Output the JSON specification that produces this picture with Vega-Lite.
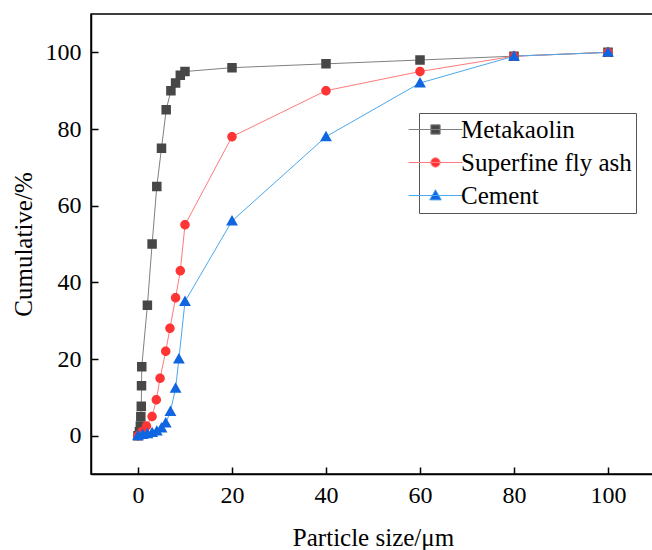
{
  "$schema": "https://vega.github.io/schema/vega-lite/v6.json",
  "autosize": "none",
  "width": 564,
  "height": 460,
  "padding": {"left": 91, "top": 14, "right": 0, "bottom": 76},
  "background": "white",
  "config": {
    "font": "Liberation Serif",
    "view": {"stroke": "black", "strokeWidth": 1.5},
    "axis": {
      "grid": false,
      "domainColor": "black",
      "domainWidth": 1.5,
      "tickColor": "black",
      "tickWidth": 1.5,
      "tickSize": -7,
      "labelFont": "Liberation Serif",
      "labelFontSize": 24,
      "labelColor": "black",
      "titleFont": "Liberation Serif",
      "titleFontSize": 25,
      "titleFontWeight": "normal",
      "titleColor": "black"
    }
  },
  "data": {
    "values": [
      {"s": "Metakaolin", "i": 0, "x": 0, "y": 0},
      {"s": "Metakaolin", "i": 1, "x": 0.3, "y": 1},
      {"s": "Metakaolin", "i": 2, "x": 0.5, "y": 2.5},
      {"s": "Metakaolin", "i": 3, "x": 0.6, "y": 5},
      {"s": "Metakaolin", "i": 4, "x": 0.7, "y": 7.7},
      {"s": "Metakaolin", "i": 5, "x": 0.75, "y": 13},
      {"s": "Metakaolin", "i": 6, "x": 0.8, "y": 18},
      {"s": "Metakaolin", "i": 7, "x": 2, "y": 34},
      {"s": "Metakaolin", "i": 8, "x": 3, "y": 50},
      {"s": "Metakaolin", "i": 9, "x": 4, "y": 65},
      {"s": "Metakaolin", "i": 10, "x": 5, "y": 75},
      {"s": "Metakaolin", "i": 11, "x": 6, "y": 85},
      {"s": "Metakaolin", "i": 12, "x": 7, "y": 90},
      {"s": "Metakaolin", "i": 13, "x": 8, "y": 92},
      {"s": "Metakaolin", "i": 14, "x": 9, "y": 94},
      {"s": "Metakaolin", "i": 15, "x": 10, "y": 95},
      {"s": "Metakaolin", "i": 16, "x": 20, "y": 96},
      {"s": "Metakaolin", "i": 17, "x": 40, "y": 97},
      {"s": "Metakaolin", "i": 18, "x": 60, "y": 98},
      {"s": "Metakaolin", "i": 19, "x": 80, "y": 99},
      {"s": "Metakaolin", "i": 20, "x": 100, "y": 100},
      {"s": "Superfine fly ash", "i": 0, "x": 0, "y": 0},
      {"s": "Superfine fly ash", "i": 1, "x": 0.8, "y": 1},
      {"s": "Superfine fly ash", "i": 2, "x": 1.8, "y": 2.5},
      {"s": "Superfine fly ash", "i": 3, "x": 3, "y": 5},
      {"s": "Superfine fly ash", "i": 4, "x": 3.9, "y": 9.4},
      {"s": "Superfine fly ash", "i": 5, "x": 4.7, "y": 15},
      {"s": "Superfine fly ash", "i": 6, "x": 5.9, "y": 22},
      {"s": "Superfine fly ash", "i": 7, "x": 6.8, "y": 28},
      {"s": "Superfine fly ash", "i": 8, "x": 8, "y": 36},
      {"s": "Superfine fly ash", "i": 9, "x": 9, "y": 43},
      {"s": "Superfine fly ash", "i": 10, "x": 10, "y": 55},
      {"s": "Superfine fly ash", "i": 11, "x": 20, "y": 78},
      {"s": "Superfine fly ash", "i": 12, "x": 40, "y": 90},
      {"s": "Superfine fly ash", "i": 13, "x": 60, "y": 95},
      {"s": "Superfine fly ash", "i": 14, "x": 80, "y": 99},
      {"s": "Superfine fly ash", "i": 15, "x": 100, "y": 100},
      {"s": "Cement", "i": 0, "x": 0, "y": 0},
      {"s": "Cement", "i": 1, "x": 1, "y": 0.3},
      {"s": "Cement", "i": 2, "x": 2, "y": 0.5},
      {"s": "Cement", "i": 3, "x": 3, "y": 0.8},
      {"s": "Cement", "i": 4, "x": 4, "y": 1.2},
      {"s": "Cement", "i": 5, "x": 5, "y": 2},
      {"s": "Cement", "i": 6, "x": 5.9, "y": 3.3},
      {"s": "Cement", "i": 7, "x": 6.9, "y": 6.3},
      {"s": "Cement", "i": 8, "x": 8, "y": 12.4},
      {"s": "Cement", "i": 9, "x": 8.7, "y": 20},
      {"s": "Cement", "i": 10, "x": 10, "y": 35},
      {"s": "Cement", "i": 11, "x": 20, "y": 56},
      {"s": "Cement", "i": 12, "x": 40, "y": 78},
      {"s": "Cement", "i": 13, "x": 60, "y": 92},
      {"s": "Cement", "i": 14, "x": 80, "y": 99},
      {"s": "Cement", "i": 15, "x": 100, "y": 100}
    ]
  },
  "encoding": {
    "x": {
      "field": "x",
      "type": "quantitative",
      "scale": {"domain": [-10, 110], "nice": false, "zero": false},
      "axis": {"values": [0, 20, 40, 60, 80, 100], "title": "Particle size/μm", "labelPadding": 16, "titlePadding": 18}
    },
    "y": {
      "field": "y",
      "type": "quantitative",
      "scale": {"domain": [-10, 110], "nice": false, "zero": false},
      "axis": {"values": [0, 20, 40, 60, 80, 100], "title": "Cumulative/%", "labelPadding": 17, "titlePadding": 9}
    }
  },
  "layer": [
    {
      "mark": {"type": "line", "strokeWidth": 1},
      "encoding": {
        "stroke": {
          "field": "s",
          "type": "nominal",
          "scale": {"domain": ["Metakaolin", "Superfine fly ash", "Cement"], "range": ["#808080", "#ff7a7a", "#4aa8ee"]}
        },
        "order": {"field": "i", "type": "quantitative"}
      }
    },
    {
      "mark": {"type": "point", "filled": true, "opacity": 1, "size": 90, "strokeWidth": 0},
      "encoding": {
        "fill": {
          "field": "s",
          "type": "nominal",
          "scale": {"domain": ["Metakaolin", "Superfine fly ash", "Cement"], "range": ["#474747", "#ff3535", "#1066e0"]},
          "legend": {
            "title": null,
            "orient": "none",
            "legendX": 328,
            "legendY": 99,
            "labelFont": "Liberation Serif",
            "labelFontSize": 25,
            "labelColor": "black",
            "labelLimit": 400,
            "labelOffset": 13,
            "symbolSize": 86,
            "symbolOffset": 0,
            "symbolStrokeWidth": 1,
            "symbolOpacity": 1,
            "rowPadding": 7,
            "padding": 4,
            "strokeColor": "#555555",
            "fillColor": "white"
          }
        },
        "shape": {
          "field": "s",
          "type": "nominal",
          "scale": {"domain": ["Metakaolin", "Superfine fly ash", "Cement"], "range": ["M-5.8,0H5.8M-1,-1H1V1H-1Z", "M-5.8,0H5.8M1,0A1,1,0,1,1,-1,0A1,1,0,1,1,1,0Z", "M-5.8,0H5.8M0,-1.25L1.25,0.95H-1.25Z"]}
        }
      }
    }
  ]
}
